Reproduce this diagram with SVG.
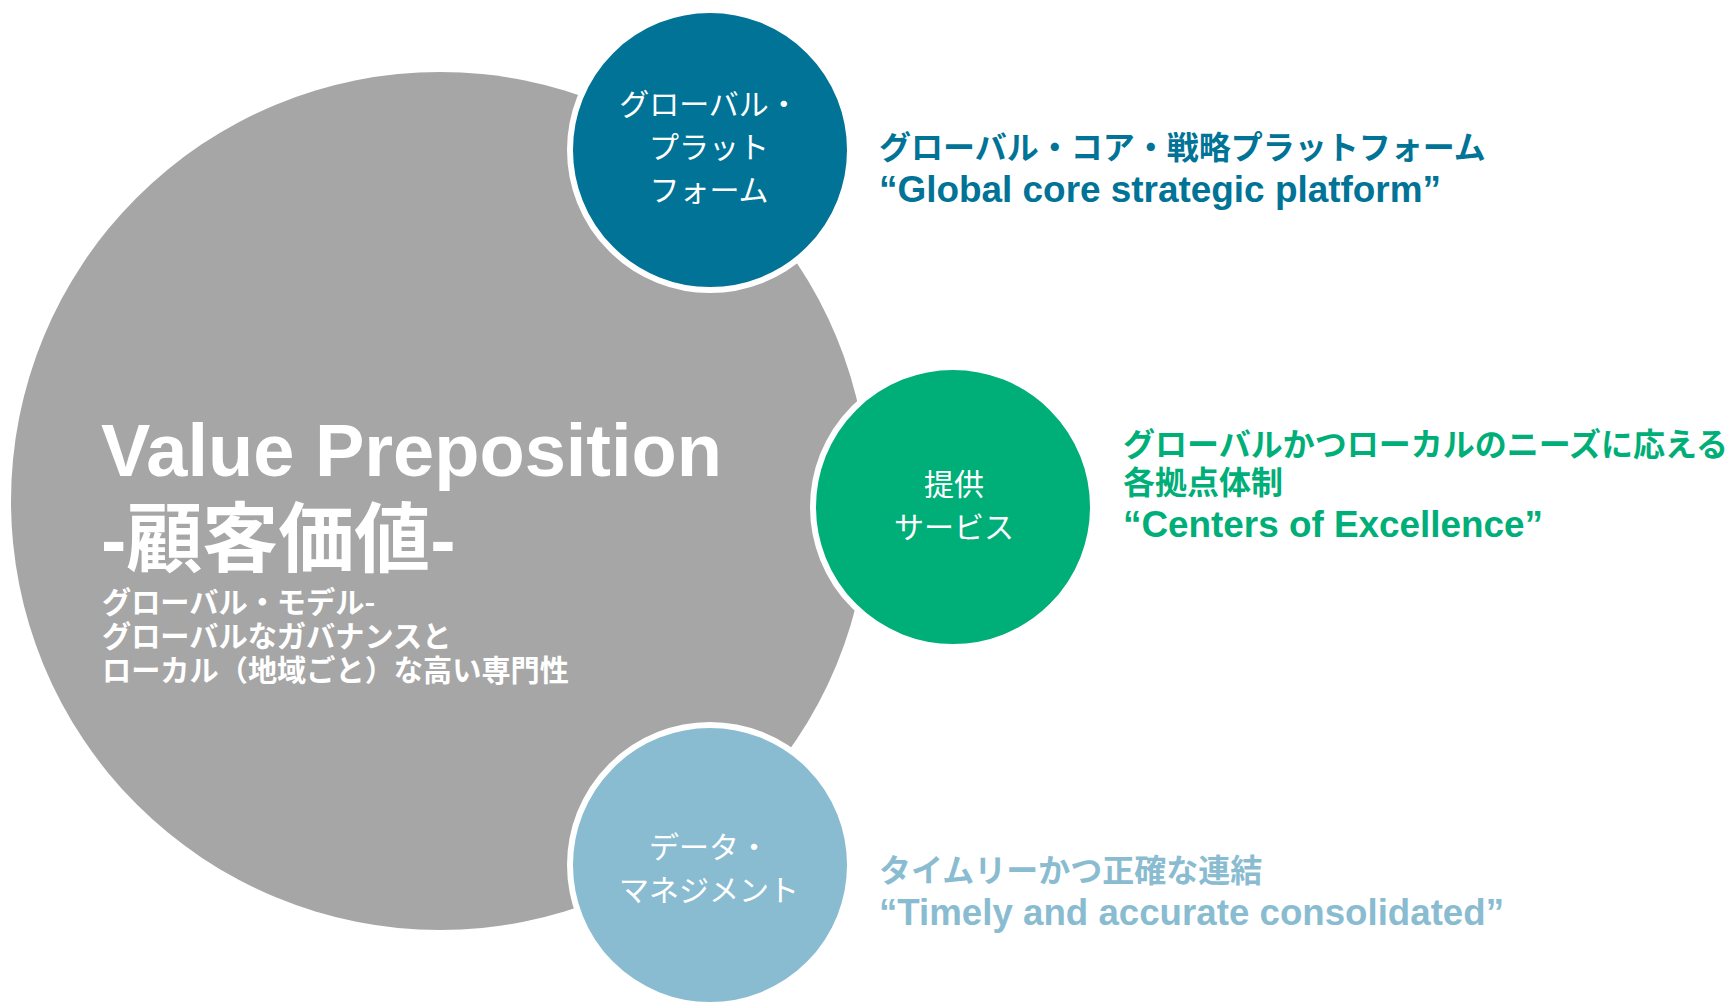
<svg xmlns="http://www.w3.org/2000/svg" width="1731" height="1003" viewBox="0 0 1731 1003">
<style>
.ring{stroke:#ffffff;stroke-width:6}
.lbl{font-family:"Noto Sans CJK JP","Noto Sans",sans-serif;font-size:30px;fill:#ffffff;text-anchor:middle}
.jp{font-family:"Noto Sans CJK JP",sans-serif;font-weight:bold;font-size:32px}
.en{font-family:"Liberation Sans",Arial,sans-serif;font-weight:bold;font-size:36px}
.sub{font-family:"Noto Sans CJK JP",sans-serif;font-weight:bold;font-size:29.2px;fill:#ffffff}
</style>
<rect width="1731" height="1003" fill="#ffffff"/>
<g id="value-proposition">
  <circle cx="440" cy="501" r="429" fill="#A6A6A6"/>
  <text x="101" y="476" font-family="Liberation Sans, Arial, sans-serif" font-weight="bold" font-size="74" fill="#ffffff" textLength="621" lengthAdjust="spacingAndGlyphs">Value Preposition</text>
  <text x="101" y="566" font-family="Liberation Sans, 'Noto Sans CJK JP', sans-serif" font-weight="bold" font-size="76" fill="#ffffff">-顧客価値-</text>
  <text class="sub" x="102" y="613">グローバル・モデル-</text>
  <text class="sub" x="102" y="647">グローバルなガバナンスと</text>
  <text class="sub" x="102" y="681">ローカル（地域ごと）な高い専門性</text>
</g>
<g id="connectors"></g>
<g id="global-platform">
  <circle class="ring" cx="710" cy="150" r="140" fill="#007396"/>
  <text class="lbl" x="709" y="115">グローバル・</text>
  <text class="lbl" x="709" y="158">プラット</text>
  <text class="lbl" x="709" y="201">フォーム</text>
  <text class="jp" x="879" y="159" fill="#007396">グローバル・コア・戦略プラットフォーム</text>
  <text class="en" x="879" y="202" fill="#007396" textLength="562" lengthAdjust="spacingAndGlyphs">“Global core strategic platform”</text>
</g>
<g id="services">
  <circle class="ring" cx="953" cy="507" r="140" fill="#00AE78"/>
  <text class="lbl" x="954" y="495">提供</text>
  <text class="lbl" x="954" y="538">サービス</text>
  <text class="jp" x="1123" y="456" fill="#00AE78">グローバルかつローカルのニーズに応える</text>
  <text class="jp" x="1123" y="494" fill="#00AE78">各拠点体制</text>
  <text class="en" x="1123" y="537" fill="#00AE78" textLength="420" lengthAdjust="spacingAndGlyphs">“Centers of Excellence”</text>
</g>
<g id="data-management">
  <circle class="ring" cx="710" cy="865" r="140" fill="#8ABCD1"/>
  <text class="lbl" x="709" y="858">データ・</text>
  <text class="lbl" x="709" y="901">マネジメント</text>
  <text class="jp" x="879" y="882" fill="#8ABCD1">タイムリーかつ正確な連結</text>
  <text class="en" x="879" y="925" fill="#8ABCD1" textLength="625" lengthAdjust="spacingAndGlyphs">“Timely and accurate consolidated”</text>
</g>
</svg>
